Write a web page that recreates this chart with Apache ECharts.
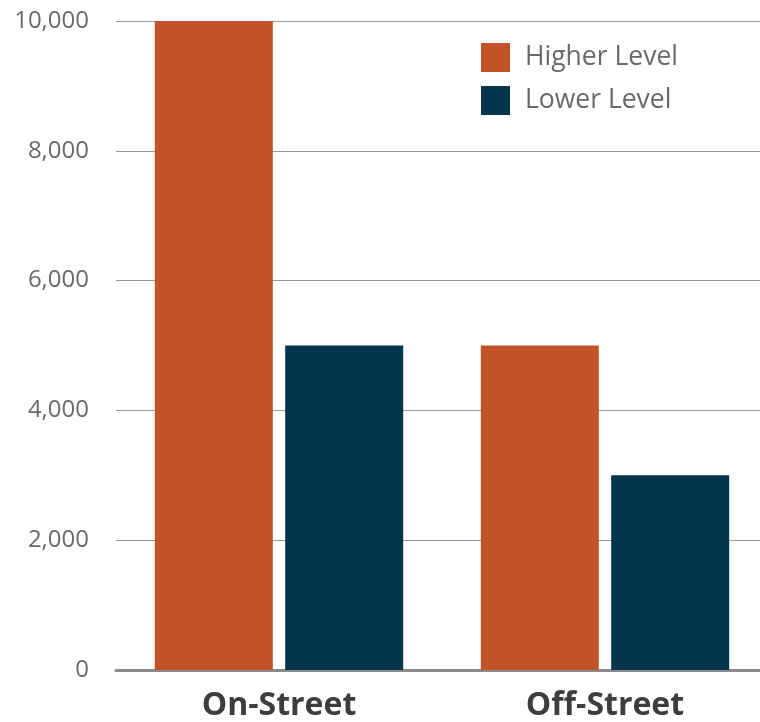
<!DOCTYPE html>
<html><head><meta charset="utf-8">
<script src="https://cdn.jsdelivr.net/npm/echarts@6/dist/echarts.min.js"></script>
<style>html,body{margin:0;padding:0;background:#fff;overflow:hidden}#c{width:768px;height:722px}</style>
</head><body><div id="c"></div>
<script>
var categories = ['On-Street', 'Off-Street'];
var higherLevel = [10000, 5000];
var lowerLevel = [5000, 3000];
var yTicks = {min: 0, max: 10000, interval: 2000};

var chart = echarts.init(document.getElementById('c'), null, {renderer: 'canvas'});
chart.setOption({
  animation: false,
  textStyle: {fontFamily: 'Open Sans'},
  grid: {left: 116, right: 0, top: 21, bottom: 51, containLabel: false},
  legend: {
    orient: 'vertical', left: 481, top: 43, padding: 0,
    itemWidth: 29, itemHeight: 29, itemGap: 14,
    icon: 'rect',
    textStyle: {fontFamily: 'Open Sans', fontSize: 26.5, color: '#6b6b65', padding: [0, 0, 0, 10]},
    data: ['Higher Level', 'Lower Level']
  },
  xAxis: {
    type: 'category', data: categories,
    axisTick: {show: false},
    axisLine: {lineStyle: {color: '#8a8a8a', width: 3}},
    axisLabel: {fontFamily: 'Open Sans', fontSize: 32, fontWeight: 'bold', color: '#3d3d3d', margin: 20}
  },
  yAxis: {
    type: 'value', min: yTicks.min, max: yTicks.max, interval: yTicks.interval,
    axisLine: {show: false}, axisTick: {show: false},
    splitLine: {lineStyle: {color: '#9a9a9a', width: 1}},
    axisLabel: {fontFamily: 'Open Sans', fontSize: 24, color: '#6b6b65', margin: 27,
      formatter: function (v) { return v.toLocaleString('en-US'); }}
  },
  series: [
    {name: 'Higher Level', type: 'bar', data: higherLevel, itemStyle: {color: '#C25227'},
     barWidth: 118, barGap: '10.5%'},
    {name: 'Lower Level', type: 'bar', data: lowerLevel, itemStyle: {color: '#03364D'},
     barWidth: 118, barGap: '10.5%'}
  ]
});
</script></body></html>
